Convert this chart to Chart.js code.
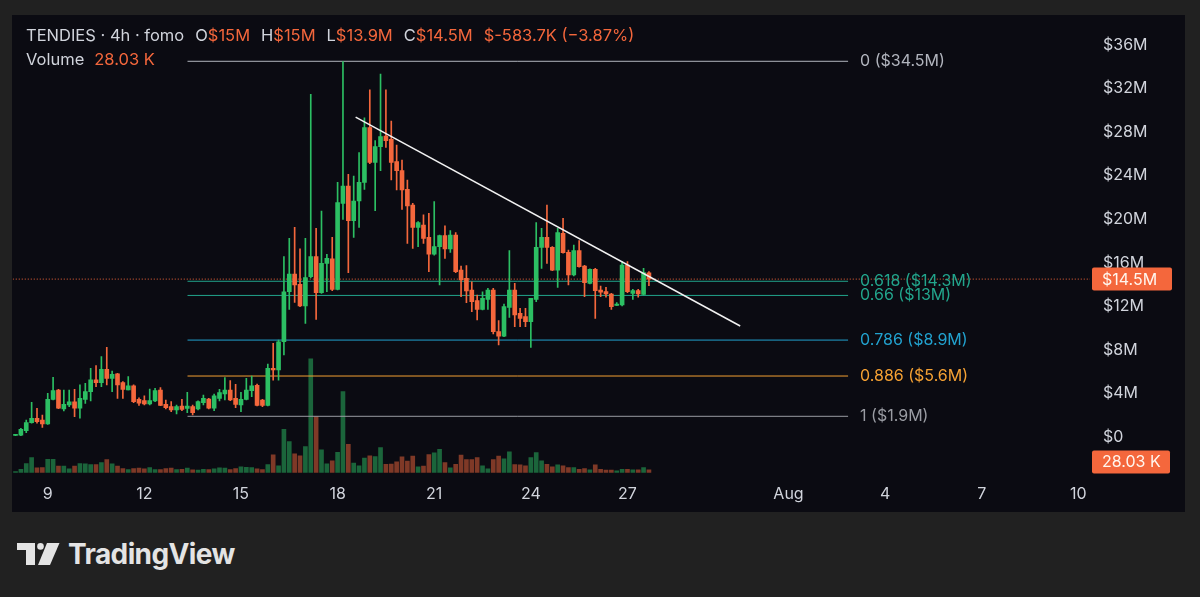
<!DOCTYPE html>
<html>
<head>
<meta charset="utf-8">
<script src="https://cdn.jsdelivr.net/npm/chart.js@4.4.1/dist/chart.umd.min.js"></script>
<style>
  html, body { margin: 0; padding: 0; background: #212121; width: 1200px; height: 597px; overflow: hidden; }
  #panel { position: absolute; left: 12px; top: 15px; width: 1173px; height: 497px; background: #0b0b12; }
  #logo { position: absolute; left: 16px; top: 541px; height: 26px; display: flex; align-items: center; color: #e4e4e4; }
  #logo span { font: 700 28px Inter, "Noto Sans", sans-serif; letter-spacing: -0.6px; margin-left: 7px; }
</style>
</head>
<body>
<div id="panel"><canvas id="chart" width="1173" height="497"></canvas></div>
<div id="logo">
  <svg width="45" height="22" viewBox="0 0 45 22">
    <path d="M1 0H19V22H10V7H1Z" fill="#e4e4e4"/>
    <circle cx="24.5" cy="3.4" r="3.3" fill="#e4e4e4"/>
    <path d="M31 0H43.5L34 22H22Z" fill="#e4e4e4"/>
  </svg>
  <span>TradingView</span>
</div>
<script>
// 4h candles, first one opens Jul 8 00:00 (x axis is "day of July")
const firstDay = 8
const opens = [0.15, 0.16, 0.58, 1.32, 1.72, 1.56, 1.20, 3.46, 4.32, 2.57, 2.94, 3.22, 2.64, 3.46, 4.16, 5.24, 4.99, 6.21, 5.39, 5.79,
  4.99, 4.32, 4.69, 3.46, 3.34, 3.03, 3.31, 4.32, 3.00, 2.79, 2.48, 2.85, 2.63, 2.79, 2.57, 3.16, 3.49, 2.64, 3.55, 3.95,
  4.32, 3.55, 2.94, 3.46, 4.26, 4.75, 3.40, 2.91, 6.31, 6.15, 8.75, 13.34, 14.97, 14.02, 12.03, 14.72, 16.56, 13.25, 15.95, 16.35,
  13.56, 21.46, 23.05, 19.86, 21.67, 23.38, 28.41, 25.22, 26.66, 27.64, 27.33, 25.28, 24.46, 22.74, 21.30, 19.25, 19.47, 18.33, 16.80, 17.48,
  18.49, 17.26, 18.55, 15.33, 14.57, 13.50, 12.52, 11.72, 12.64, 13.50, 9.67, 9.27, 11.91, 13.50, 11.35, 11.05, 10.59, 12.64, 17.42, 18.33,
  17.42, 15.33, 18.70, 16.96, 14.88, 17.11, 15.70, 14.11, 15.40, 13.50, 13.35, 13.13, 12.09, 12.12, 15.79, 13.19, 13.44, 13.10, 15.08]
const highs = [0.25, 0.80, 1.56, 3.19, 2.63, 2.02, 4.01, 5.48, 4.38, 4.32, 4.32, 4.38, 4.78, 4.93, 6.31, 6.55, 7.38, 8.24, 6.06, 5.85,
  5.08, 5.54, 4.78, 3.60, 3.77, 4.41, 4.47, 4.53, 3.40, 3.25, 2.94, 3.46, 4.10, 2.94, 3.31, 3.86, 3.55, 3.95, 4.38, 5.45,
  5.17, 4.84, 4.10, 5.39, 5.60, 4.87, 3.46, 6.70, 8.60, 8.90, 16.56, 18.24, 19.25, 17.27, 18.24, 31.47, 19.16, 20.75, 16.77, 18.33,
  23.38, 34.47, 24.12, 23.97, 26.11, 29.32, 31.87, 27.21, 33.33, 31.87, 29.01, 26.81, 25.44, 23.60, 21.46, 19.77, 20.39, 20.54, 21.61, 18.55,
  19.38, 18.95, 18.76, 15.70, 15.73, 14.26, 13.04, 13.34, 13.65, 13.65, 10.68, 12.21, 17.11, 14.11, 11.81, 11.81, 12.73, 19.68, 19.16, 21.30,
  17.48, 19.16, 20.08, 17.17, 17.63, 18.03, 15.76, 15.45, 15.49, 13.86, 13.74, 13.19, 12.34, 16.10, 16.10, 13.56, 13.56, 15.49, 15.18]
const lows = [0.12, 0.12, 0.40, 1.26, 1.26, 0.89, 1.15, 3.40, 2.60, 2.39, 2.79, 1.87, 1.72, 3.09, 3.31, 4.62, 4.62, 4.78, 4.16, 3.55,
  3.55, 4.32, 3.16, 2.90, 2.94, 2.94, 3.25, 2.88, 2.57, 2.33, 2.11, 2.42, 2.24, 2.02, 2.48, 2.94, 2.57, 2.42, 3.31, 3.40,
  3.34, 2.69, 2.33, 3.40, 3.70, 2.85, 2.79, 2.85, 5.23, 5.23, 7.53, 11.72, 12.36, 11.97, 10.44, 14.60, 10.80, 13.19, 13.34, 13.44,
  13.50, 19.99, 15.09, 18.33, 19.25, 22.74, 25.10, 20.78, 24.46, 26.60, 23.60, 22.68, 20.90, 17.78, 17.32, 17.48, 17.78, 15.18, 16.70, 13.96,
  16.41, 16.96, 15.09, 12.89, 12.34, 11.51, 10.74, 11.66, 11.72, 9.46, 8.45, 9.21, 10.99, 10.13, 10.13, 10.13, 8.23, 12.43, 15.49, 15.95,
  15.27, 13.74, 16.87, 13.96, 14.80, 15.60, 12.89, 14.05, 10.90, 12.89, 12.83, 11.72, 12.05, 12.03, 13.25, 12.64, 12.83, 13.04, 13.90]
const closes = [0.20, 0.71, 1.32, 1.72, 1.41, 1.20, 3.46, 4.26, 2.64, 3.00, 3.22, 2.64, 3.55, 4.16, 5.24, 4.99, 6.21, 5.39, 5.76, 4.78,
  4.38, 4.69, 3.25, 3.10, 3.03, 3.34, 4.26, 2.91, 2.69, 2.48, 2.79, 2.54, 2.85, 2.24, 3.25, 3.55, 2.64, 3.77, 4.07, 4.32,
  3.40, 3.00, 3.46, 4.32, 4.69, 2.91, 2.91, 6.31, 6.15, 8.75, 13.34, 14.97, 13.96, 12.03, 14.63, 16.56, 13.25, 15.95, 16.41, 13.56,
  21.52, 23.05, 19.86, 21.67, 23.38, 28.41, 25.22, 26.66, 27.58, 27.21, 25.22, 24.46, 22.68, 21.21, 19.25, 19.68, 18.24, 16.80, 17.48, 18.49,
  17.26, 18.55, 15.18, 14.42, 13.41, 12.43, 11.72, 12.73, 13.50, 9.67, 9.27, 11.97, 13.50, 11.20, 10.90, 10.59, 12.73, 17.42, 18.33, 17.42,
  15.33, 18.76, 16.93, 14.88, 17.11, 15.64, 14.17, 15.40, 13.44, 13.31, 13.13, 11.97, 12.21, 15.79, 13.35, 13.44, 13.13, 15.09, 14.50]
// volume in thousands
const volumes = [10, 34, 94, 156, 49, 52, 138, 138, 66, 66, 38, 66, 94, 90, 83, 83, 104, 135, 90, 66,
  42, 31, 42, 45, 38, 52, 31, 31, 42, 45, 31, 34, 45, 28, 24, 34, 31, 38, 49, 45,
  31, 42, 59, 55, 52, 38, 31, 83, 184, 70, 450, 322, 194, 174, 270, 1182, 582, 236, 90, 122,
  211, 842, 294, 97, 70, 149, 174, 166, 260, 86, 88, 111, 163, 118, 170, 59, 66, 187, 205, 242,
  104, 49, 86, 180, 135, 135, 156, 70, 38, 135, 170, 142, 215, 83, 80, 70, 156, 208, 122, 86,
  59, 80, 70, 52, 52, 34, 42, 28, 80, 34, 24, 24, 18, 34, 34, 28, 28, 52, 28.03]

const priceTicks = [0, 4, 8, 12, 16, 20, 24, 28, 32, 36]
const dayTicks = [9, 12, 15, 18, 21, 24, 27, 32, 35, 38, 41]
const dayLabels = ['9', '12', '15', '18', '21', '24', '27', 'Aug', '4', '7', '10']

const fibLevels = ['0', '0.618', '0.66', '0.786', '0.886', '1']
const fibPrices = [34.5, 14.3, 13, 8.9, 5.6, 1.9]
const fibColors = ['#b2b5be', '#22a58c', '#22a58c', '#22a2cf', '#f5a133', '#9a9ca3']
const fibFrom = 13.34
const fibTo = 33.85

const trendDays = [18.56, 30.5]
const trendPrices = [29.38, 10.19]

const lastPrice = 14.5
const lastVolume = '28.03 K'
const headerKeys = ['O', 'H', 'L', 'C']
const headerVals = ['$15M', '$15M', '$13.9M', '$14.5M']
const headerChange = '$-583.7K (\u22123.87%)'

const upColor = '#2cbf63'
const downColor = '#f4673c'
const accent = '#f4673c'
const textColor = '#d1d4dc'
const font = 'Inter, "Noto Sans", sans-serif'

const times = closes.map((c, i) => firstDay + i / 6)
const up = closes.map((c, i) => c >= opens[i])
const candleColors = up.map(u => u ? upColor : downColor)
const volColors = up.map(u => u ? 'rgba(44,191,99,0.5)' : 'rgba(244,103,60,0.5)')

const xMin = 7.914
const xMax = 41.361

// where $0 and the volume baseline sit on the canvas, and the scale factors
const priceZeroPx = 422
const pxPerMillion = 10.89
const volZeroPx = 457.5
const kPerPx = 10.4

const datasets = [
	{
		type: 'bar',
		data: times.map((t, i) => ({ x: t, y: volumes[i] })),
		yAxisID: 'vol',
		backgroundColor: volColors,
		barThickness: 4,
		grouped: false,
		order: 6,
	},
	...fibPrices.map((p, k) => ({
		type: 'line',
		data: [{ x: fibFrom, y: p }, { x: fibTo, y: p }],
		borderColor: fibColors[k],
		borderWidth: 1,
		pointRadius: 0,
		order: 5,
	})),
	{
		type: 'line',
		data: [{ x: xMin, y: lastPrice }, { x: xMax, y: lastPrice }],
		borderColor: accent,
		borderWidth: 1,
		borderDash: [1, 2],
		pointRadius: 0,
		order: 4,
	},
	{
		type: 'bar',
		data: times.map((t, i) => ({ x: t, y: [lows[i], highs[i]] })),
		backgroundColor: candleColors,
		barThickness: 1,
		grouped: false,
		order: 3,
	},
	{
		type: 'bar',
		data: times.map((t, i) => ({ x: t, y: [opens[i], closes[i]] })),
		backgroundColor: candleColors,
		barThickness: 4,
		minBarLength: 1,
		grouped: false,
		order: 2,
	},
	{
		type: 'line',
		data: trendDays.map((d, i) => ({ x: d, y: trendPrices[i] })),
		borderColor: '#f2f2f2',
		borderWidth: 1.5,
		pointRadius: 0,
		order: 1,
	},
]

const overlay = {
	id: 'overlay',
	afterDraw(chart) {
		const { ctx, scales, chartArea } = chart
		const x = scales.x
		const y = scales.y
		ctx.save()
		ctx.textBaseline = 'middle'
		ctx.font = '16px ' + font

		// fib level labels
		fibLevels.forEach((lv, k) => {
			ctx.fillStyle = fibColors[k]
			ctx.fillText(lv + ' ($' + fibPrices[k] + 'M)', x.getPixelForValue(fibTo) + 12, y.getPixelForValue(fibPrices[k]))
		})

		// header
		ctx.font = '16.5px ' + font
		let cx = 14
		ctx.fillStyle = textColor
		ctx.fillText('TENDIES \u00b7 4h \u00b7 fomo', cx, 21)
		cx += ctx.measureText('TENDIES \u00b7 4h \u00b7 fomo').width + 11
		headerKeys.forEach((k, i) => {
			ctx.fillStyle = textColor
			ctx.fillText(k, cx, 21)
			cx += ctx.measureText(k).width
			ctx.fillStyle = accent
			ctx.fillText(headerVals[i], cx, 21)
			cx += ctx.measureText(headerVals[i]).width + 11
		})
		ctx.fillText(headerChange, cx, 21)
		ctx.fillStyle = textColor
		ctx.fillText('Volume', 14, 45)
		ctx.fillStyle = accent
		ctx.fillText(lastVolume, 14 + ctx.measureText('Volume').width + 10, 45)

		// last price / volume boxes on the price scale
		ctx.font = '16px ' + font
		const bx = chartArea.right + 2
		const py = y.getPixelForValue(lastPrice)
		ctx.fillStyle = accent
		ctx.beginPath()
		ctx.roundRect(bx, py - 11.5, 80, 23, 2)
		ctx.fill()
		const vy = scales.vol.getPixelForValue(0)
		ctx.beginPath()
		ctx.roundRect(bx, vy - 22, 78, 23, 2)
		ctx.fill()
		ctx.fillStyle = '#fff6ee'
		ctx.fillText('$' + lastPrice + 'M', bx + 10, py + 1)
		ctx.fillText(lastVolume, bx + 10, vy - 10)
		ctx.restore()
	},
}

const chart = new Chart(document.getElementById('chart'), {
	type: 'bar',
	data: { datasets: datasets },
	options: {
		responsive: false,
		animation: false,
		devicePixelRatio: 1,
		layout: { padding: 0 },
		plugins: {
			legend: { display: false },
			tooltip: { enabled: false },
		},
		scales: {
			x: {
				type: 'linear',
				min: xMin,
				max: xMax,
				offset: false,
				grid: { display: false, drawTicks: false },
				border: { display: false },
				afterBuildTicks: (s) => { s.ticks = dayTicks.map(v => ({ value: v })) },
				afterFit: (s) => { s.height = 34 },
				ticks: {
					autoSkip: false,
					maxRotation: 0,
					padding: 7,
					color: textColor,
					font: { size: 16, family: font },
					callback: (v) => dayLabels[dayTicks.indexOf(v)],
				},
			},
			y: {
				position: 'right',
				min: -3.765,
				max: 38.75,
				grid: { display: false, drawTicks: false },
				border: { display: false },
				afterBuildTicks: (s) => { s.ticks = priceTicks.map(v => ({ value: v })) },
				afterFit: (s) => { s.width = 95 },
				ticks: {
					padding: 13,
					color: textColor,
					font: { size: 16, family: font },
					callback: (v) => v === 0 ? '$0' : '$' + v + 'M',
				},
			},
			vol: {
				display: false,
				min: -57,
				max: 4758,
			},
		},
	},
	plugins: [overlay],
})

// fit the value ranges to the plot area the layout actually produced
const area = chart.chartArea
chart.options.scales.y.min = -(area.bottom - priceZeroPx) / pxPerMillion
chart.options.scales.y.max = (priceZeroPx - area.top) / pxPerMillion
chart.options.scales.vol.min = -(area.bottom - volZeroPx) * kPerPx
chart.options.scales.vol.max = (volZeroPx - area.top) * kPerPx
chart.update()
</script>
</body>
</html>
